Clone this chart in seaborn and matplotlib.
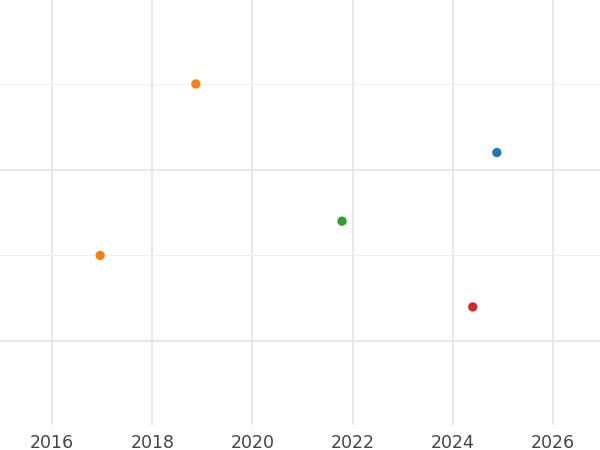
import pandas as pd
import matplotlib.pyplot as plt
import seaborn as sns
from matplotlib.ticker import MultipleLocator

# Datos
years = [2018.87, 2024.88, 2021.79, 2016.96, 2024.40]
values = [2.50, 2.10, 1.70, 1.50, 1.20]
groups = ['B', 'A', 'C', 'B', 'D']

df = pd.DataFrame({'year': years, 'value': values, 'group': groups})

sns.set_style('white')
fig = plt.figure(figsize=(6, 4.5), dpi=100)
ax = fig.add_axes([0, 0.055, 1, 0.945])

sns.scatterplot(data=df, x='year', y='value', hue='group',
                hue_order=['A', 'B', 'C', 'D'], palette='tab10',
                s=45, edgecolor='none', legend=False, ax=ax)

ax.set_xlim(2014.96, 2026.94)
ax.set_ylim(0.51, 2.99)
ax.xaxis.set_major_locator(MultipleLocator(2))
ax.xaxis.set_minor_locator(MultipleLocator(2))
ax.yaxis.set_major_locator(MultipleLocator(1))
ax.yaxis.set_minor_locator(MultipleLocator(0.5))
ax.grid(which='major', color='#e6e6e6', linewidth=1.3)
ax.grid(which='minor', color='#efefef', linewidth=0.8)
ax.set_axisbelow(True)
ax.tick_params(axis='x', length=0, labelsize=12.5, colors='#444444', pad=6)
ax.tick_params(axis='y', length=0, labelleft=False)
ax.set_xlabel('')
ax.set_ylabel('')
for s in ax.spines.values():
    s.set_visible(False)

fig.savefig('out.png')
